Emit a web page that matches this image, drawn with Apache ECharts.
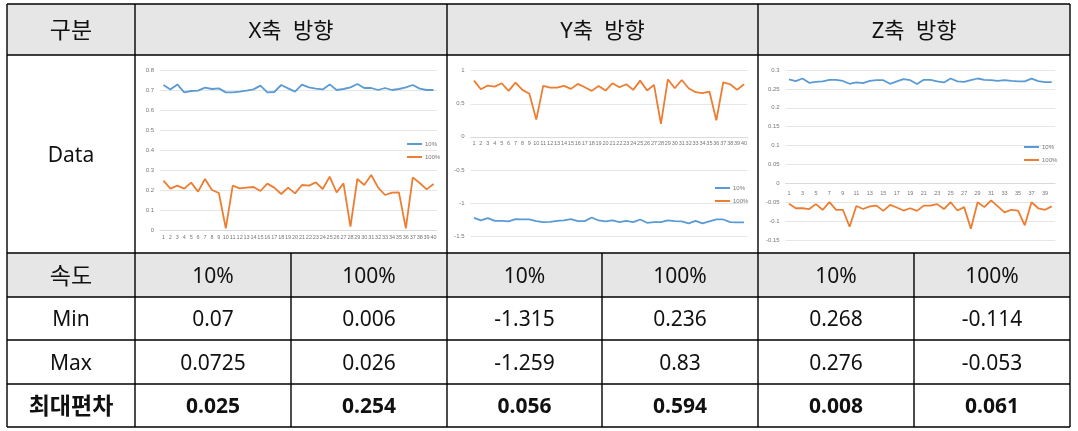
<!DOCTYPE html>
<html><head><meta charset="utf-8">
<script src="https://cdn.jsdelivr.net/npm/echarts@6/dist/echarts.min.js"></script>
<style>html,body{margin:0;padding:0;background:#fff}#c{width:1078px;height:431px}</style>
</head><body><div id="c"></div>
<script>
// ---- table text ----
const cornerLabel = '구분';
const dataLabel = 'Data';
const groupLabels = ['X축  방향', 'Y축  방향', 'Z축  방향'];
const speedLabel = '속도';
const speedLabels = ['10%', '100%', '10%', '100%', '10%', '100%'];
const rowLabels = ['Min', 'Max', '최대편차'];
const minRow = ['0.07', '0.006', '-1.315', '0.236', '0.268', '-0.114'];
const maxRow = ['0.0725', '0.026', '-1.259', '0.83', '0.276', '-0.053'];
const devRow = ['0.025', '0.254', '0.056', '0.594', '0.008', '0.061'];

// ---- chart data ----
const categories = Array.from({length: 40}, (_, i) => String(i + 1));
const seriesNames = ['10%', '100%'];
const x10 = [0.725,0.703,0.728,0.688,0.695,0.697,0.712,0.705,0.708,0.688,0.688,0.692,0.697,0.703,0.722,0.688,0.69,0.725,0.708,0.692,0.727,0.713,0.707,0.703,0.728,0.7,0.705,0.713,0.73,0.71,0.71,0.7,0.71,0.7,0.705,0.713,0.725,0.707,0.7,0.7];
const x100 = [0.247,0.207,0.222,0.207,0.237,0.192,0.255,0.2,0.185,0.008,0.222,0.208,0.212,0.215,0.195,0.232,0.212,0.18,0.212,0.183,0.225,0.222,0.238,0.205,0.267,0.188,0.233,0.017,0.255,0.225,0.275,0.212,0.175,0.187,0.188,0.008,0.263,0.235,0.203,0.23];
const y10 = [-1.225,-1.265,-1.23,-1.27,-1.27,-1.28,-1.245,-1.25,-1.248,-1.275,-1.29,-1.285,-1.27,-1.265,-1.245,-1.275,-1.275,-1.22,-1.265,-1.28,-1.265,-1.29,-1.27,-1.29,-1.25,-1.3,-1.29,-1.29,-1.265,-1.275,-1.28,-1.31,-1.27,-1.31,-1.28,-1.25,-1.25,-1.29,-1.295,-1.295];
const y100 = [0.85,0.72,0.775,0.76,0.81,0.695,0.82,0.71,0.65,0.26,0.77,0.745,0.745,0.77,0.725,0.8,0.75,0.695,0.77,0.7,0.81,0.75,0.795,0.71,0.85,0.7,0.785,0.195,0.87,0.735,0.86,0.735,0.675,0.66,0.685,0.25,0.825,0.795,0.71,0.795];
const z10 = [0.275,0.2705,0.2775,0.266,0.2685,0.27,0.274,0.274,0.271,0.2635,0.267,0.265,0.271,0.273,0.273,0.2635,0.27,0.276,0.273,0.263,0.274,0.274,0.27,0.267,0.2775,0.27,0.2685,0.273,0.2775,0.274,0.273,0.271,0.273,0.271,0.27,0.27,0.277,0.2705,0.268,0.268];
const z100 = [-0.054,-0.066,-0.066,-0.068,-0.055,-0.07,-0.05,-0.07,-0.07,-0.115,-0.06,-0.068,-0.061,-0.059,-0.073,-0.057,-0.064,-0.072,-0.066,-0.073,-0.059,-0.059,-0.055,-0.068,-0.05,-0.072,-0.063,-0.12,-0.05,-0.063,-0.045,-0.061,-0.077,-0.07,-0.072,-0.111,-0.05,-0.066,-0.07,-0.061];
const yRanges = [[0, 0.8, 0.1], [-1.5, 1, 0.5], [-0.15, 0.3, 0.05]];
const catIntervals = [0, 0, 1];

// ---- layout ----
const colX = [7, 135, 291, 447, 602, 758, 914, 1070];
const rowY = [4, 55, 253, 297, 340, 384, 427];
const FONT = "'Noto Sans', 'Noto Sans CJK KR', sans-serif";
const BLUE = '#5b9bd5', ORANGE = '#ed7d31';
const KO = 23, LAT = 21, DY = 2;

const g = [];
function txt(s, x, y, size, bold) {
  g.push({type: 'text', x: x, y: y + DY, style: {text: s, x: 0, y: 0, align: 'center', verticalAlign: 'middle',
    fontSize: size, fontFamily: FONT, fontWeight: bold ? 'bold' : 'normal', fill: '#111'}, z: 10});
}
function line(x1, y1, x2, y2) {
  g.push({type: 'line', shape: {x1, y1, x2, y2}, style: {stroke: '#000', lineWidth: 1.4}, z: 20});
}
[[0, 1], [2, 3]].forEach(([a, b]) => g.push({type: 'rect', shape: {x: colX[0], y: rowY[a], width: colX[7] - colX[0], height: rowY[b] - rowY[a]}, style: {fill: '#e6e6e6'}, z: 1}));
rowY.forEach(y => line(colX[0], y, colX[7], y));
[0, 1, 3, 5, 7].forEach(i => line(colX[i], rowY[0], colX[i], rowY[6]));
[2, 4, 6].forEach(i => line(colX[i], rowY[2], colX[i], rowY[6]));
const mid = (a, b) => (a + b) / 2;
txt(cornerLabel, mid(colX[0], colX[1]), mid(rowY[0], rowY[1]), KO);
groupLabels.forEach((s, i) => txt(s, mid(colX[1 + 2 * i], colX[3 + 2 * i]), mid(rowY[0], rowY[1]), KO - 1));
txt(dataLabel, mid(colX[0], colX[1]), mid(rowY[1], rowY[2]), LAT);
txt(speedLabel, mid(colX[0], colX[1]), mid(rowY[2], rowY[3]), KO);
speedLabels.forEach((s, i) => txt(s, mid(colX[1 + i], colX[2 + i]), mid(rowY[2], rowY[3]), LAT));
[minRow, maxRow, devRow].forEach((row, r) => {
  const bold = r === 2;
  txt(rowLabels[r], mid(colX[0], colX[1]), mid(rowY[3 + r], rowY[4 + r]), bold ? KO : LAT, bold);
  row.forEach((s, i) => txt(s, mid(colX[1 + i], colX[2 + i]), mid(rowY[3 + r], rowY[4 + r]), LAT, bold));
});

const grids = [
  {left: 160, top: 70, width: 277, height: 160},
  {left: 470.5, top: 70.7, width: 277, height: 165.3},
  {left: 785.6, top: 70, width: 269.5, height: 170}
];
const legendPos = [[402, 136], [710, 180], [1019, 139]];
const dataSets = [[x10, x100], [y10, y100], [z10, z100]];
// place the category axis where the value axis crosses zero
const zeroOffset = i => -grids[i].height * (0 - yRanges[i][0]) / (yRanges[i][1] - yRanges[i][0]);

const option = {
  animation: false,
  graphic: {elements: g},
  grid: grids,
  legend: legendPos.map(([l, t]) => ({left: l, top: t, orient: 'vertical', data: seriesNames, selectedMode: false,
    icon: 'rect', itemWidth: 15, itemHeight: 2, itemGap: 7, textStyle: {fontSize: 6, color: '#777', padding: [0, 0, 0, -2]}})),
  xAxis: grids.map((_, i) => ({type: 'category', gridIndex: i, data: categories, boundaryGap: true,
    position: 'bottom', offset: zeroOffset(i),
    axisTick: {show: false}, axisLine: {onZero: false, lineStyle: {color: '#dadada'}},
    axisLabel: {interval: catIntervals[i], fontSize: 5.5, color: '#777', margin: i === 2 ? 7 : 4}})),
  yAxis: grids.map((_, i) => ({type: 'value', gridIndex: i, min: yRanges[i][0], max: yRanges[i][1], interval: yRanges[i][2],
    splitLine: {lineStyle: {color: '#e6e6e6'}}, axisLine: {show: false}, axisTick: {show: false},
    axisLabel: {fontSize: 6, color: '#777', margin: 6}})),
  series: []
};
dataSets.forEach((pair, i) => {
  pair.forEach((d, k) => option.series.push({type: 'line', name: seriesNames[k], xAxisIndex: i, yAxisIndex: i, data: d,
    symbol: 'none', lineStyle: {width: 1.8, color: k ? ORANGE : BLUE}, itemStyle: {color: k ? ORANGE : BLUE}}));
});
echarts.init(document.getElementById('c')).setOption(option);
</script></body></html>
